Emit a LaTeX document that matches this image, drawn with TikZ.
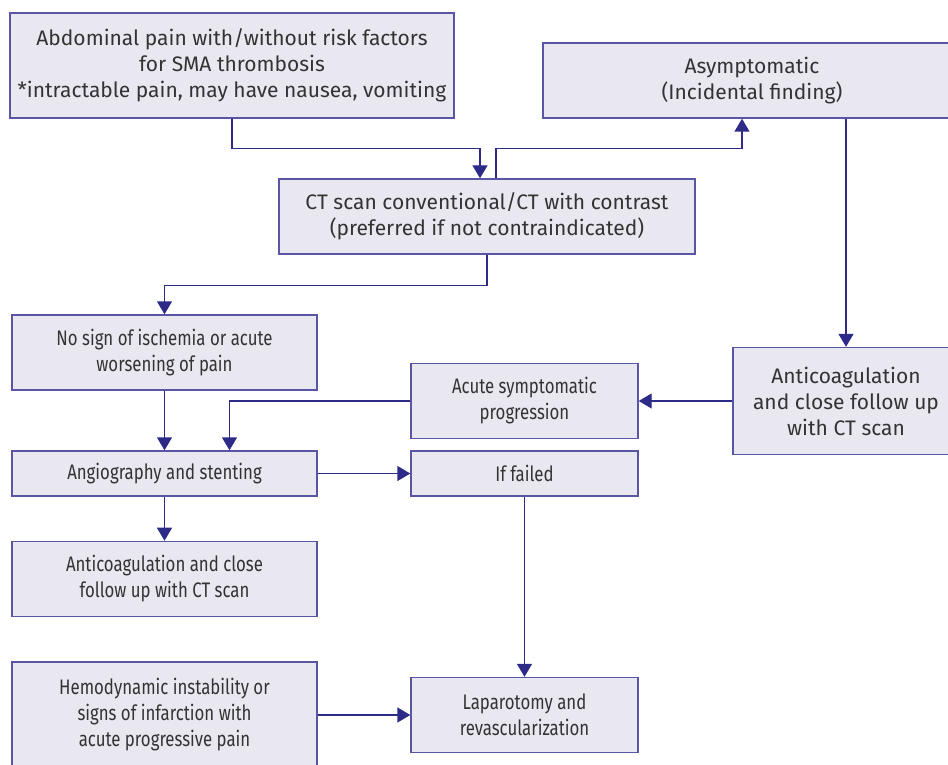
\documentclass[tikz,border=0pt]{standalone}
\usepackage{fontspec}
\setmainfont{Fira Sans}
\newfontfamily\narrowfont[FakeStretch=0.8]{Fira Sans}
\usetikzlibrary{positioning,arrows.meta}
\definecolor{boxfill}{HTML}{E9E8F1}
\definecolor{boxline}{HTML}{5A56A6}
\definecolor{arrline}{HTML}{2E2A88}
\definecolor{txtgrey}{HTML}{333333}
\tikzset{
  fig/.style={font=\fontsize{21}{26}\selectfont,text=txtgrey},
  box/.style={draw=boxline,line width=1.4pt,fill=boxfill,align=center,
              inner sep=2pt,minimum height=75pt},
  nbox/.style={box,font=\fontsize{21}{26}\selectfont\narrowfont},
  ln/.style={-{Triangle[length=13pt,width=15pt]},line width=1.4pt,arrline},
}

\begin{document}
\begin{tikzpicture}[fig,x=1pt,y=-1pt]
\useasboundingbox (0,0) rectangle (948,765);

\node[box,minimum width=444pt,minimum height=105pt] (abd) at (232,65.5)
  {Abdominal pain with/without risk factors\\for SMA thrombosis\\*intractable pain, may have nausea, vomiting};
\node[box,minimum width=418pt] (asym) at (752,80.5) {Asymptomatic\\(Incidental finding)};
\node[box,minimum width=416pt] (ct) at (487,216.5)
  {CT scan conventional/CT with contrast\\(preferred if not contraindicated)};
\node[nbox,minimum width=305pt] (nosign) at (164.5,352.5)
  {No sign of ischemia or acute\\worsening of pain};
\node[nbox,minimum width=227pt] (acute) at (524.5,401) {Acute symptomatic\\progression};
\node[box,minimum width=226pt,minimum height=107pt] (acright) at (846,401)
  {Anticoagulation\\and close follow up\\with CT scan};
\node[nbox,minimum width=305pt,minimum height=45pt] (angio) at (164.5,473.5)
  {Angiography and stenting};
\node[nbox,minimum width=227pt,minimum height=45pt] (failed) at (524.5,473.5) {If failed};
\node[nbox,minimum width=305pt,below=44pt of angio] (acleft)
  {Anticoagulation and close\\follow up with CT scan};
\node[nbox,minimum width=305pt,minimum height=106pt] (hemo) at (164.5,715)
  {Hemodynamic instability or\\signs of infarction with\\acute progressive pain};
\node[nbox,minimum width=227pt] (lapa) at (524.5,715)
  {Laparotomy and\\revascularization};

\coordinate (asymdown) at ([xshift=94pt]asym.south);

\draw[ln] (abd.south) -- ++(0,30) -| ([xshift=-7pt]ct.north);
\draw[ln] ([xshift=9pt]ct.north) -- ++(0,-30) -| ([xshift=-10pt]asym.south);
\draw[ln] (asymdown) -- (asymdown |- acright.north);
\draw[ln] (ct.south) -- ++(0,31) -| (nosign.north);
\draw[ln] (nosign) -- (angio);
\draw[ln] (acute.west) -| ([xshift=65pt]angio.north);
\draw[ln] (acright) -- (acute);
\draw[ln] (angio) -- (failed);
\draw[ln] (angio) -- (acleft);
\draw[ln] (failed) -- (lapa);
\draw[ln] (hemo) -- (lapa);

\end{tikzpicture}
\end{document}
